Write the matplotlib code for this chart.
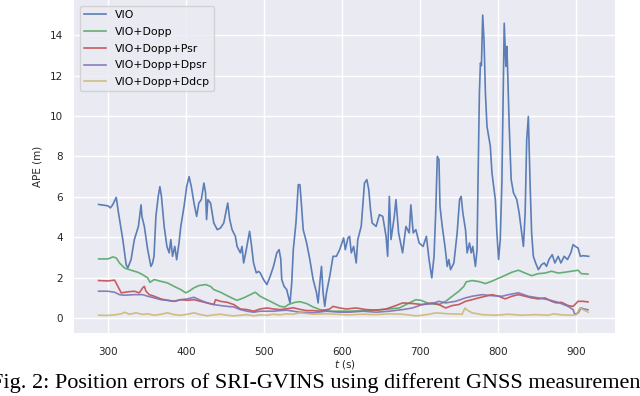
import matplotlib
matplotlib.use("Agg")
import matplotlib.pyplot as plt

# ---------------- data ----------------
series_names = ["VIO", "VIO+Dopp", "VIO+Dopp+Psr", "VIO+Dopp+Dpsr", "VIO+Dopp+Ddcp"]
colors = ["#4C72B0", "#55A868", "#C44E52", "#8172B2", "#CCB974"]

vio_t = [288, 300, 303, 306, 310.6, 313.5, 319, 323.3, 325.4, 329.6, 333.8, 339, 342.4, 343.5,
         346.6, 350.9, 355, 357, 359, 361.4, 364.4, 366.5, 368.5, 372, 375.5, 378.4, 380.5, 382.7,
         385.6, 388, 391, 393.3, 397.5, 400.9, 403.9, 406.8, 410.2, 413.6, 416.4, 419.6, 422.9, 425,
         426.3, 428, 431.4, 435.6, 440, 444.1, 448.3, 453.4, 456, 459, 463.2, 465.4, 469.6, 471.7,
         473.8, 477.2, 481.4, 483.5, 486.5, 490, 492.9, 495, 499.2, 503.6, 507.8, 512, 516.3, 519.2,
         521.4, 522.6, 525.6, 529, 531, 533.2, 535.4, 537.4, 540.8, 543.8, 545.9, 548, 550.1, 554.5,
         558.6, 562.8, 567.2, 569.2, 571.4, 573.5, 575.6, 577.7, 579.9, 584.1, 588.3, 592.6, 596.8,
         601.9, 604, 607.4, 609.5, 611.7, 614.7, 618, 620, 624.4, 628.6, 631.6, 634.1, 636.3, 638.4,
         643.5, 647.7, 652, 656.2, 658.3, 660.4, 662.6, 666.8, 668.9, 672.3, 677.4, 681.7, 685.9,
         688, 691, 694.4, 698.6, 703.7, 707.9, 711.3, 714.8, 717.7, 719.8, 721.9, 724, 725.3, 728.2,
         731.7, 734.6, 736.7, 738.9, 743.1, 747.3, 750.4, 752.4, 754.6, 758, 760.1, 763.1, 765.3,
         767.3, 770.7, 772.8, 774, 775.8, 777.1, 778.4, 780, 781.7, 783.5, 785.5, 789.8, 791.9,
         796.2, 798.2, 800.4, 802.5, 804.6, 806.7, 807.6, 809.7, 811, 812.2, 814, 816.5, 819.5,
         823.7, 826.7, 830, 832.2, 834.4, 836.4, 838.5, 840.7, 842.7, 844.9, 847.8, 851.3, 855.5,
         858.9, 861.8, 864.9, 869.1, 872.5, 876.7, 880.2, 884.4, 888.6, 892.9, 895.8, 898.7, 902.2,
         905.1, 908.5, 915.8]
vio_y = [5.62, 5.55, 5.45, 5.6, 5.97, 5.2, 3.88, 2.64, 2.47, 2.89, 3.88, 4.53, 5.6, 5.03,
         4.53, 3.38, 2.55, 2.7, 3.05, 5.03, 6.02, 6.5, 6.02, 4.53, 3.54, 3.22, 3.88, 3.05,
         3.54, 2.88, 3.71, 4.53, 5.53, 6.52, 7.0, 6.5, 5.69, 5.03, 5.69, 5.86, 6.68, 6.2,
         4.87, 5.86, 5.69, 4.7, 4.37, 4.45, 4.7, 5.69, 4.87, 4.37, 4.04, 3.54, 3.22, 3.54,
         2.72, 3.38, 4.29, 3.71, 2.72, 2.23, 2.3, 2.23, 1.9, 1.65, 2.06, 2.55, 3.22, 3.38,
         2.9, 1.9, 1.56, 1.4, 1.07, 0.74, 1.73, 3.38, 4.7, 6.6, 6.6, 5.53, 4.37, 3.71,
         2.89, 1.9, 1.24, 0.74, 1.73, 2.55, 1.24, 0.57, 1.24, 2.06, 3.05, 3.05, 3.38,
         3.96, 3.38, 3.96, 4.04, 3.22, 3.54, 2.72, 3.88, 4.53, 6.68, 6.85, 6.35, 5.36, 4.7,
         4.53, 5.11, 5.03, 4.04, 3.05, 6.02, 3.88, 5.03, 5.86, 4.21, 3.22, 4.53, 4.21,
         5.6, 4.21, 4.37, 3.71, 3.54, 4.04, 2.89, 1.98, 3.05, 5.2, 8.0, 7.84, 5.53, 4.53,
         3.54, 2.55, 2.89, 2.39, 2.72, 4.21, 5.86, 6.02, 5.2, 4.37, 3.22, 3.71, 3.22,
         3.54, 2.55, 3.38, 6.68, 11.14, 12.62, 12.5, 15.0, 13.78, 11.14, 9.49, 8.5, 7.18,
         5.86, 4.21, 2.89, 3.88, 6.68, 12.46, 14.6, 12.46, 13.45, 11.96, 9.49, 6.85, 6.19,
         5.86, 5.2, 4.21, 3.54, 5.2, 8.83, 9.98, 6.68, 4.21, 3.05, 2.72, 2.39, 2.64,
         2.72, 2.55, 2.89, 3.13, 2.72, 3.05, 2.72, 3.05, 2.89, 3.22, 3.63, 3.54, 3.46,
         3.05, 3.08, 3.05]

dopp_t = [288, 300, 306.4, 310.6, 314.8, 321.2, 329.6, 338.2, 344.5, 350.9, 353.8, 359.3, 367.8,
          376.3, 384.7, 393.3, 399.6, 403.8, 410.2, 416.5, 425.1, 431.4, 435.6, 444.1, 452.7,
          461.1, 465.4, 473.8, 482.3, 488.7, 495, 503.6, 512, 520.5, 526.9, 531, 539.6, 545.9,
          554.5, 562.8, 571.4, 584.1, 596.8, 609.5, 630.8, 652, 673.2, 685.9, 694.4, 700.8, 711.3,
          724, 732.6, 741, 749.5, 755.9, 758.8, 766.4, 774.9, 783.5, 791.9, 798.2, 804.6, 817.3,
          825.8, 834.4, 842.7, 851.3, 859.8, 868.2, 876.7, 885.2, 893.7, 902.2, 906.4, 914.9]
dopp_y = [2.92, 2.92, 3.02, 2.97, 2.72, 2.47, 2.36, 2.26, 2.14, 1.98, 1.76, 1.9, 1.81,
          1.73, 1.56, 1.4, 1.24, 1.32, 1.49, 1.6, 1.65, 1.56, 1.4, 1.27, 1.1,
          0.94, 0.87, 0.99, 1.15, 1.27, 1.07, 0.9, 0.74, 0.57, 0.54, 0.66, 0.77, 0.8,
          0.71, 0.54, 0.41, 0.33, 0.33, 0.33, 0.36, 0.41, 0.49, 0.74, 0.9, 0.87, 0.71,
          0.66, 0.82, 1.07, 1.32, 1.56, 1.78, 1.85, 1.8, 1.7, 1.82, 1.93, 2.03, 2.26,
          2.36, 2.22, 2.09, 2.19, 2.22, 2.31, 2.22, 2.26, 2.31, 2.36, 2.19, 2.17]

psr_t = [288, 300, 308.5, 312.7, 317, 325.4, 333.8, 340.2, 344.5, 346.6, 348.7, 352.9, 359.3,
         367.8, 376.3, 384.7, 393.3, 401.8, 410.2, 418.7, 427.2, 435.6, 437.8, 444.1, 452.7,
         461.1, 469.6, 478.1, 486.5, 495, 503.6, 512, 520.5, 529, 537.4, 545.9, 554.5, 562.8,
         571.4, 584.1, 588.3, 596.8, 605.3, 618, 630.8, 643.5, 656.2, 668.9, 677.4, 690.1, 702.8,
         715.5, 724, 732.6, 741, 749.5, 758, 766.4, 774.9, 783.5, 791.9, 800.4, 808.9, 817.3,
         825.8, 834.4, 842.7, 851.3, 859.8, 868.2, 874.5, 880.9, 889.4, 895.8, 902.2, 908.5, 914.9]
psr_y = [1.85, 1.83, 1.87, 1.56, 1.24, 1.29, 1.32, 1.24, 1.49, 1.56, 1.32, 1.15, 1.07,
         0.94, 0.87, 0.82, 0.9, 0.87, 0.9, 0.82, 0.74, 0.66, 0.9, 0.82, 0.77,
         0.66, 0.44, 0.41, 0.33, 0.44, 0.49, 0.44, 0.41, 0.45, 0.5, 0.42, 0.36, 0.36,
         0.33, 0.44, 0.57, 0.49, 0.44, 0.49, 0.41, 0.38, 0.44, 0.61, 0.74, 0.71, 0.66,
         0.74, 0.66, 0.49, 0.61, 0.66, 0.82, 0.9, 0.99, 1.07, 1.15, 1.07, 0.94, 1.07,
         1.15, 1.07, 0.99, 0.94, 0.99, 0.82, 0.74, 0.77, 0.61, 0.57, 0.82, 0.82, 0.79]

dpsr_t = [288, 300, 308.5, 314.8, 321.2, 333.8, 344.5, 350.9, 359.3, 367.8, 376.3, 384.7, 393.3,
          401.8, 410.2, 418.7, 427.2, 435.6, 444.1, 452.7, 461.1, 469.6, 478.1, 486.5, 495, 503.6,
          512, 520.5, 529, 537.4, 545.9, 562.8, 579.9, 596.8, 609.5, 626.6, 643.5, 660.4, 677.4,
          690.1, 702.8, 715.5, 724, 732.6, 745.3, 758, 766.4, 779.2, 791.9, 804.6, 813.1, 825.8,
          838.5, 851.3, 864, 876.7, 889.4, 895.8, 898, 902.5, 906, 910, 914.9]
dpsr_y = [1.32, 1.32, 1.27, 1.15, 1.12, 1.15, 1.15, 1.07, 0.99, 0.9, 0.87, 0.82, 0.9,
          0.94, 1.02, 0.87, 0.74, 0.66, 0.61, 0.57, 0.54, 0.41, 0.33, 0.28, 0.33, 0.33,
          0.33, 0.36, 0.38, 0.33, 0.28, 0.25, 0.33, 0.28, 0.28, 0.33, 0.28, 0.33, 0.41,
          0.49, 0.66, 0.71, 0.82, 0.74, 0.82, 0.99, 1.07, 1.15, 1.1, 1.07, 1.15, 1.24,
          1.07, 0.99, 0.9, 0.77, 0.57, 0.41, 0.18, 0.25, 0.49, 0.44, 0.4]

ddcp_t = [288, 300, 308.5, 317, 321.2, 327.6, 336, 344.5, 350.9, 359.3, 367.8, 376.3, 384.7,
          393.3, 401.8, 410.2, 418.7, 427.2, 435.6, 444.1, 452.7, 461.1, 469.6, 478.1, 486.5,
          495, 503.6, 512, 520.5, 529, 537.4, 545.9, 562.8, 579.9, 596.8, 605.3, 609.5, 626.6,
          643.5, 660.4, 677.4, 694.4, 702.8, 711.3, 719.8, 736.7, 753.6, 757.3, 760.3, 766.4,
          779.2, 796.2, 813.1, 830, 847, 864, 871, 880.9, 893.7, 900, 904.3, 908.5, 914.9]
ddcp_y = [0.13, 0.12, 0.15, 0.2, 0.28, 0.18, 0.25, 0.17, 0.2, 0.13, 0.18, 0.25, 0.16,
          0.13, 0.18, 0.25, 0.16, 0.1, 0.15, 0.18, 0.13, 0.1, 0.13, 0.16, 0.1,
          0.15, 0.13, 0.18, 0.15, 0.2, 0.18, 0.25, 0.18, 0.2, 0.17, 0.15, 0.15, 0.18,
          0.16, 0.2, 0.18, 0.1, 0.13, 0.18, 0.25, 0.2, 0.18, 0.49, 0.38, 0.25,
          0.16, 0.13, 0.18, 0.13, 0.16, 0.13, 0.2, 0.15, 0.13, 0.15, 0.49, 0.41, 0.28]

caption = "Fig. 2: Position errors of SRI-GVINS using different GNSS measurements"

# ---------------- figure ----------------
plt.rcParams["font.family"] = ["DejaVu Sans"]
fig = plt.figure(figsize=(6.4, 3.96), dpi=100)
ax = fig.add_axes([74 / 640, 63 / 396, 541 / 640, 333 / 396])
ax.set_facecolor("#EAEAF2")
for s in ax.spines.values():
    s.set_visible(False)
ax.grid(True, color="white", linewidth=1.0)
ax.set_axisbelow(True)

all_t = [vio_t, dopp_t, psr_t, dpsr_t, ddcp_t]
all_y = [vio_y, dopp_y, psr_y, dpsr_y, ddcp_y]
for t, y, c, name in zip(all_t, all_y, colors, series_names):
    ax.plot(t, y, color=c, linewidth=1.2, alpha=0.9, label=name)

ax.set_xlim(256.5, 949.5)
ax.set_ylim(-0.75, 15.75)
ax.set_xticks([300, 400, 500, 600, 700, 800, 900])
ax.set_yticks([0, 2, 4, 6, 8, 10, 12, 14])
ax.tick_params(axis="x", length=0, labelsize=7.5, labelcolor="#262626", pad=10)
ax.tick_params(axis="y", length=0, labelsize=7.5, labelcolor="#262626", pad=8)
ax.set_xlabel("$t$ (s)", fontsize=7.5, color="#262626", labelpad=1)
ax.set_ylabel("APE (m)", fontsize=7.5, color="#262626", labelpad=5)

leg = ax.legend(loc="upper left", fontsize=7.8, frameon=True, facecolor="#EAEAF2",
                edgecolor="0.8", framealpha=0.8, handlelength=2.0, labelspacing=0.62,
                borderaxespad=0.55)

fig.text(-0.014, (396 - 388) / 396, caption, fontsize=16, family="Liberation Serif",
         color="black", ha="left", va="baseline")

fig.savefig("out.png", dpi=100)
